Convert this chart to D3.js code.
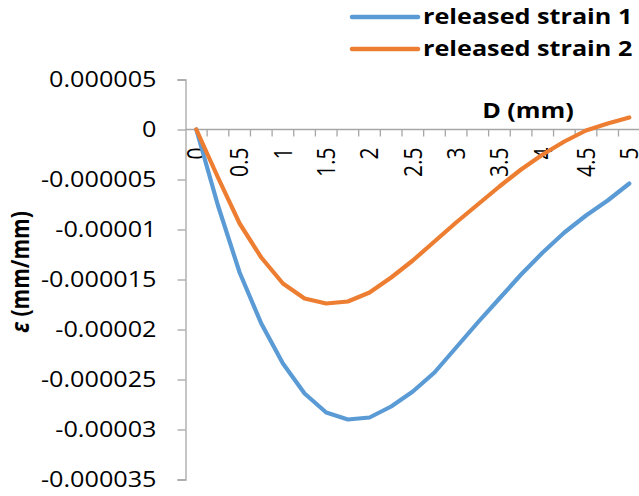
<!DOCTYPE html>
<html>
<head>
<meta charset="utf-8">
<script src="https://cdn.jsdelivr.net/npm/d3@7"></script>
<style>
  html, body { margin: 0; padding: 0; background: #fff; }
  svg { display: block; }
  text { font-family: "Open Sans", "Liberation Sans", sans-serif; fill: #000; }
</style>
</head>
<body>
<svg id="chart" width="639" height="496"></svg>
<script>
// ---- data ----
const categories = [0, 0.25, 0.5, 0.75, 1, 1.25, 1.5, 1.75, 2, 2.25, 2.5, 2.75, 3, 3.25, 3.5, 3.75, 4, 4.25, 4.5, 4.75, 5];
const xTickLabels = ["0", "0.5", "1", "1.5", "2", "2.5", "3", "3.5", "4", "4.5", "5"];
const yTickValues = [0.000005, 0, -0.000005, -0.00001, -0.000015, -0.00002, -0.000025, -0.00003, -0.000035];
const yTickLabels = ["0.000005", "0", "-0.000005", "-0.00001", "-0.000015", "-0.00002", "-0.000025", "-0.00003", "-0.000035"];
const seriesNames = ["released strain 1", "released strain 2"];
const strain1 = [0, -7.6e-6, -14.3e-6, -19.4e-6, -23.4e-6, -26.4e-6, -28.3e-6, -29.0e-6, -28.8e-6, -27.7e-6, -26.2e-6, -24.3e-6, -21.8e-6, -19.3e-6, -16.9e-6, -14.5e-6, -12.3e-6, -10.3e-6, -8.6e-6, -7.1e-6, -5.4e-6];
const strain2 = [0, -4.8e-6, -9.4e-6, -12.8e-6, -15.4e-6, -16.9e-6, -17.4e-6, -17.2e-6, -16.3e-6, -14.8e-6, -13.1e-6, -11.2e-6, -9.3e-6, -7.5e-6, -5.7e-6, -4.0e-6, -2.5e-6, -1.2e-6, -0.1e-6, 0.6e-6, 1.2e-6];
const colors = ["#5B9BD5", "#ED7D31"];

// ---- layout ----
const SX = 1.2;            // horizontal stretch of glyphs in the reference
const axisX = 185.5;
const band = 21.65;
const svg = d3.select("#chart");

const x = d3.scaleBand().domain(categories).range([axisX, axisX + band * categories.length]).paddingInner(0).paddingOuter(0);
const y = d3.scaleLinear().domain([-0.000035, 0.000005]).range([479.5, 79.5]);
const cx = d => x(d) + x.bandwidth() / 2;

const axisColor = "#a6a6a6";

// y axis
const yAxis = d3.axisLeft(y).tickValues(yTickValues).tickSize(8)
  .tickFormat((d, i) => yTickLabels[i]);
const gy = svg.append("g").attr("transform", `translate(${axisX},0)`).call(yAxis);
gy.select(".domain").attr("stroke", axisColor).attr("stroke-width", 1.3);
gy.selectAll(".tick line").attr("stroke", axisColor).attr("stroke-width", 1.3);
gy.selectAll(".tick text")
  .attr("x", 0).attr("dy", "0.35em")
  .attr("transform", `translate(-29,0) scale(${SX},1)`)
  .style("font-size", "21px").attr("text-anchor", "end").attr("fill", "#000");

// x axis line at y=0
const y0 = y(0);
svg.append("line")
  .attr("x1", axisX).attr("x2", axisX + band * categories.length)
  .attr("y1", y0).attr("y2", y0)
  .attr("stroke", axisColor).attr("stroke-width", 1.3);

// x tick marks at category boundaries
svg.append("g").selectAll("line").data(categories).join("line")
  .attr("x1", d => x(d) + x.bandwidth()).attr("x2", d => x(d) + x.bandwidth())
  .attr("y1", y0).attr("y2", y0 + 7)
  .attr("stroke", axisColor).attr("stroke-width", 1.3);

// x tick labels (every other category), rotated
const labelled = categories.filter((d, i) => i % 2 === 0);
svg.append("g").selectAll("text").data(labelled).join("text")
  .attr("transform", (d) => `translate(${cx(d)},${y0 + 18}) scale(${SX},1) rotate(-90)`)
  .attr("text-anchor", "end").attr("dy", "0.35em")
  .style("font-size", "21px")
  .text((d, i) => xTickLabels[i]);

// lines
const line = d3.line().x((d, i) => cx(categories[i])).y(d => y(d));
[strain1, strain2].forEach((s, k) => {
  svg.append("path").datum(s)
    .attr("fill", "none").attr("stroke", colors[k]).attr("stroke-width", 4.2)
    .attr("stroke-linejoin", "round").attr("stroke-linecap", "round")
    .attr("d", line);
});

// axis titles
svg.append("text")
  .attr("transform", `translate(528,118) scale(${SX},1)`)
  .attr("text-anchor", "middle").style("font-size", "21px").style("font-weight", "bold")
  .text("D (mm)");

const yt = svg.append("text")
  .attr("transform", `translate(20,272) scale(${SX},1) rotate(-90)`)
  .attr("text-anchor", "middle").attr("dy", "0.35em")
  .style("font-size", "21px").style("font-weight", "bold");
yt.append("tspan").style("font-style", "italic").text("ε");
yt.append("tspan").text(" (mm/mm)");

// legend
const legend = svg.append("g").selectAll("g").data(seriesNames).join("g")
  .attr("transform", (d, i) => `translate(352,${17 + i * 32})`);
legend.append("line").attr("x1", 0).attr("x2", 66).attr("y1", 0).attr("y2", 0)
  .attr("stroke", (d, i) => colors[i]).attr("stroke-width", 4.5).attr("stroke-linecap", "round");
legend.append("text")
  .attr("transform", `translate(71,0) scale(${SX},1)`)
  .attr("dy", "0.35em").style("font-size", "21px").style("font-weight", "bold")
  .text(d => d);
</script>
</body>
</html>
